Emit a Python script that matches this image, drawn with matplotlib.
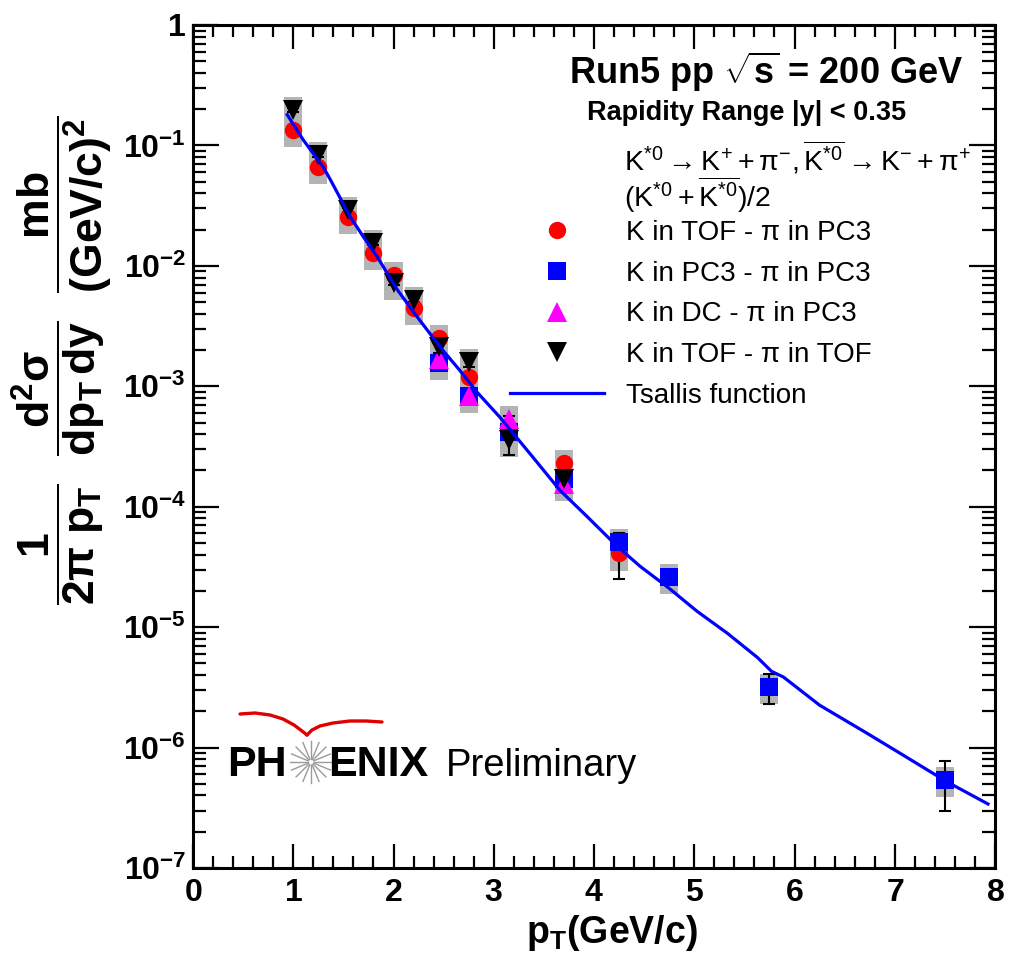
import numpy as np
import matplotlib
matplotlib.use('Agg')
import matplotlib.pyplot as plt
from matplotlib.lines import Line2D
from matplotlib.ticker import MultipleLocator, FuncFormatter, FixedLocator, NullFormatter

plt.rcParams['font.family'] = ['Liberation Sans', 'DejaVu Sans']
plt.rcParams['mathtext.fontset'] = 'custom'
plt.rcParams['mathtext.rm'] = 'Liberation Sans'
plt.rcParams['mathtext.it'] = 'Liberation Sans:italic'
plt.rcParams['mathtext.bf'] = 'Liberation Sans:bold'
plt.rcParams['mathtext.sf'] = 'Liberation Sans'

# K in TOF - pi in PC3
pt_tof_pc3 = [1.0, 1.25, 1.55, 1.8, 2.0, 2.2, 2.45, 2.75, 3.15, 3.7, 4.25]
y_tof_pc3 = [0.134, 0.066, 0.0254, 0.0128, 0.0084, 0.0045, 0.0025, 0.0012, 0.00045, 0.00023, 4.1e-5]
err_tof_pc3 = [0.005, 0.002, 0.0008, 0.0004, 0.0003, 0.00015, 0.0001, 5e-5, 2.5e-5, 1.5e-5, 1.6e-5]

# K in PC3 - pi in PC3
pt_pc3_pc3 = [2.45, 2.75, 3.15, 3.7, 4.25, 4.75, 5.75, 7.5]
y_pc3_pc3 = [0.00156, 0.00083, 0.00042, 0.00017, 5.1e-5, 2.6e-5, 3.2e-6, 5.4e-7]
err_pc3_pc3 = [6e-5, 3e-5, 2e-5, 1e-5, 0.9e-5, 0.3e-5, 0.9e-6, 2.4e-7]

# K in DC - pi in PC3
pt_dc_pc3 = [2.45, 2.75, 3.15, 3.7]
y_dc_pc3 = [0.0017, 0.00083, 0.00054, 0.000155]
err_dc_pc3 = [8e-5, 4e-5, 3e-5, 1e-5]

# K in TOF - pi in TOF
pt_tof_tof = [1.0, 1.25, 1.55, 1.8, 2.0, 2.2, 2.45, 2.75, 3.15, 3.7]
y_tof_tof = [0.197, 0.083, 0.029, 0.0155, 0.0072, 0.0052, 0.0021, 0.0016, 0.00036, 0.00017]
err_tof_tof = [0.006, 0.003, 0.001, 0.0005, 0.0003, 0.0002, 0.0002, 0.00015, 9e-5, 3e-5]

# relative systematic uncertainty (grey boxes)
sys_frac = 0.28

# Tsallis fit curve
pt_fit = [0.94, 1.10, 1.30, 1.37, 1.57, 1.70, 1.84, 2.04, 2.26, 2.49, 2.66, 2.83,
          3.06, 3.39, 3.66, 3.93, 4.23, 4.46, 4.75, 5.03, 5.33, 5.63, 5.77, 5.89,
          6.25, 6.72, 7.05, 7.52, 7.93]
y_fit = [0.18, 0.111, 0.066, 0.052, 0.0254, 0.0174, 0.0118, 0.0063, 0.00355, 0.0020,
         0.00136, 0.00090, 0.000555, 0.000258, 0.000137, 8.3e-5, 4.7e-5, 3.2e-5,
         2.1e-5, 1.35e-5, 8.9e-6, 5.6e-6, 4.3e-6, 3.85e-6, 2.25e-6, 1.32e-6, 9.0e-7,
         5.2e-7, 3.4e-7]

W, H = 1017, 971
def fx(px):
    return px / W
def fy(py):
    return 1 - py / H

fig = plt.figure(figsize=(W / 100, H / 100), dpi=100)
ax = fig.add_axes([fx(193), fy(868), 802 / W, 843 / H])

series = [
    (pt_tof_pc3, y_tof_pc3, err_tof_pc3, 'o', '#ff0000', 12.5),
    (pt_pc3_pc3, y_pc3_pc3, err_pc3_pc3, 's', '#0000ff', 13.5),
    (pt_dc_pc3, y_dc_pc3, err_dc_pc3, '^', '#ff00ff', 14),
    (pt_tof_tof, y_tof_tof, err_tof_tof, 'v', '#000000', 14),
]

# systematic boxes first, behind everything
for x, y, e, m, c, ms in series:
    x = np.array(x)
    y = np.array(y)
    ax.bar(x, 2 * sys_frac * y, bottom=y * (1 - sys_frac), width=0.18,
           color='#b4b4b4', zorder=1)

z = 3
for x, y, e, m, c, ms in series:
    ax.errorbar(x, y, yerr=e, fmt='none', ecolor='black', elinewidth=1.5,
                capsize=4, capthick=1.5, zorder=2)
    ax.plot(x, y, ls='none', marker=m, color=c, ms=ms, mew=0, zorder=z)
    z += 1

ax.plot(pt_fit, y_fit, color='#0000ff', lw=2.3, zorder=8)

ax.set_xlim(0, 8)
ax.set_yscale('log')
ax.set_ylim(1e-7, 1)

ax.xaxis.set_major_locator(MultipleLocator(1))
ax.xaxis.set_minor_locator(MultipleLocator(0.2))
decades = np.arange(-7, 1)
ax.yaxis.set_major_locator(FixedLocator(10.0 ** decades))
ax.yaxis.set_minor_locator(FixedLocator([k * 10.0 ** d for d in decades[:-1] for k in range(2, 10)]))
ax.yaxis.set_minor_formatter(NullFormatter())

def yfmt(v, pos):
    e = int(round(np.log10(v)))
    if e == 0:
        return r'$\mathbf{1}$'
    return r'$\mathbf{10^{%d}}$' % e

ax.yaxis.set_major_formatter(FuncFormatter(yfmt))
ax.xaxis.set_major_formatter(FuncFormatter(lambda v, p: r'$\mathbf{%d}$' % round(v)))

for s in ax.spines.values():
    s.set_linewidth(2.2)
ax.tick_params(which='both', direction='in', top=True, right=True, width=1.6)
ax.tick_params(axis='y', which='major', length=19, pad=5, labelsize=23)
ax.tick_params(axis='y', which='minor', length=9.5)
ax.tick_params(axis='x', which='major', length=17, pad=7, labelsize=23)
ax.tick_params(axis='x', which='minor', length=8.5)

ax.set_xlabel(r'$\mathbf{p_{T}(GeV/c)}$', fontsize=27, va='top')
ax.xaxis.set_label_coords((612 - 193) / 802, -(913 - 868) / 843)
ax.set_ylabel(r'$\mathbf{\dfrac{1}{2\pi\ p_{T}}\ \ \dfrac{d^{2}\sigma}{dp_{T}\,dy}\ \ \dfrac{mb}{(GeV/c)^{2}}}$',
              fontsize=32, va='center')
ax.yaxis.set_label_coords(-(193 - 62) / 802, (868 - 360) / 843)

# header text
fig.text(fx(766), fy(72), r'Run5 pp $\mathbf{\sqrt{s}}$ = 200 GeV', fontsize=26,
         fontweight='bold', ha='center', va='center')
fig.text(fx(747), fy(113), 'Rapidity Range |y| < 0.35', fontsize=19.5,
         fontweight='bold', ha='center', va='center')
fig.text(fx(624), fy(170),
         r'$\mathrm{K}^{*0} \rightarrow \mathrm{K}^{+} + \mathrm{\pi}^{-}, \overline{\mathrm{K}^{*0}} \rightarrow \mathrm{K}^{-} + \mathrm{\pi}^{+}$',
         fontsize=20.5, ha='left', va='baseline')
fig.text(fx(624), fy(207), r'$(\mathrm{K}^{*0} + \overline{\mathrm{K}^{*0}})/2$',
         fontsize=20.5, ha='left', va='baseline')

handles = [
    Line2D([], [], ls='none', marker='o', color='#ff0000', ms=12.5, mew=0),
    Line2D([], [], ls='none', marker='s', color='#0000ff', ms=13.5, mew=0),
    Line2D([], [], ls='none', marker='^', color='#ff00ff', ms=14, mew=0),
    Line2D([], [], ls='none', marker='v', color='#000000', ms=14, mew=0),
    Line2D([], [], color='#0000ff', lw=2.3),
]
labels = ['K in TOF - π in PC3', 'K in PC3 - π in PC3', 'K in DC - π in PC3',
          'K in TOF - π in TOF', 'Tsallis function']
fig.legend(handles, labels, loc='upper left', bbox_to_anchor=(fx(510), fy(220)),
           frameon=False, fontsize=20, handlelength=3.4, handletextpad=0.78,
           labelspacing=0.53, borderpad=0, borderaxespad=0)

# PHENIX Preliminary logo
fig.text(fx(227), fy(776), 'PH', fontsize=31, fontweight='bold', ha='left', va='baseline')
fig.text(fx(328), fy(776), 'ENIX', fontsize=31, fontweight='bold', ha='left', va='baseline')
fig.text(fx(446), fy(776), 'Preliminary', fontsize=27.5, ha='left', va='baseline')
cx, cy = 311, 762
for a in np.linspace(0, 2 * np.pi, 16, endpoint=False):
    fig.add_artist(Line2D([fx(cx + 3 * np.cos(a)), fx(cx + 21 * np.cos(a))],
                          [fy(cy + 3 * np.sin(a)), fy(cy + 21 * np.sin(a))],
                          color='#9a9a9a', lw=1.0, transform=fig.transFigure))
swoosh_l = np.array([[240, 714], [255, 713], [270, 715], [283, 719], [294, 725],
                     [302, 731], [307, 735]])
swoosh_r = np.array([[307, 735], [312, 730], [320, 726], [333, 723], [350, 721],
                     [366, 721], [382, 722]])
for pts, lw in ((swoosh_l, 2.4), (swoosh_r, 2.4)):
    fig.add_artist(Line2D(fx(pts[:, 0]), fy(pts[:, 1]), color='#e00000', lw=lw,
                          solid_capstyle='round', transform=fig.transFigure))

fig.savefig('out.png', dpi=100)
